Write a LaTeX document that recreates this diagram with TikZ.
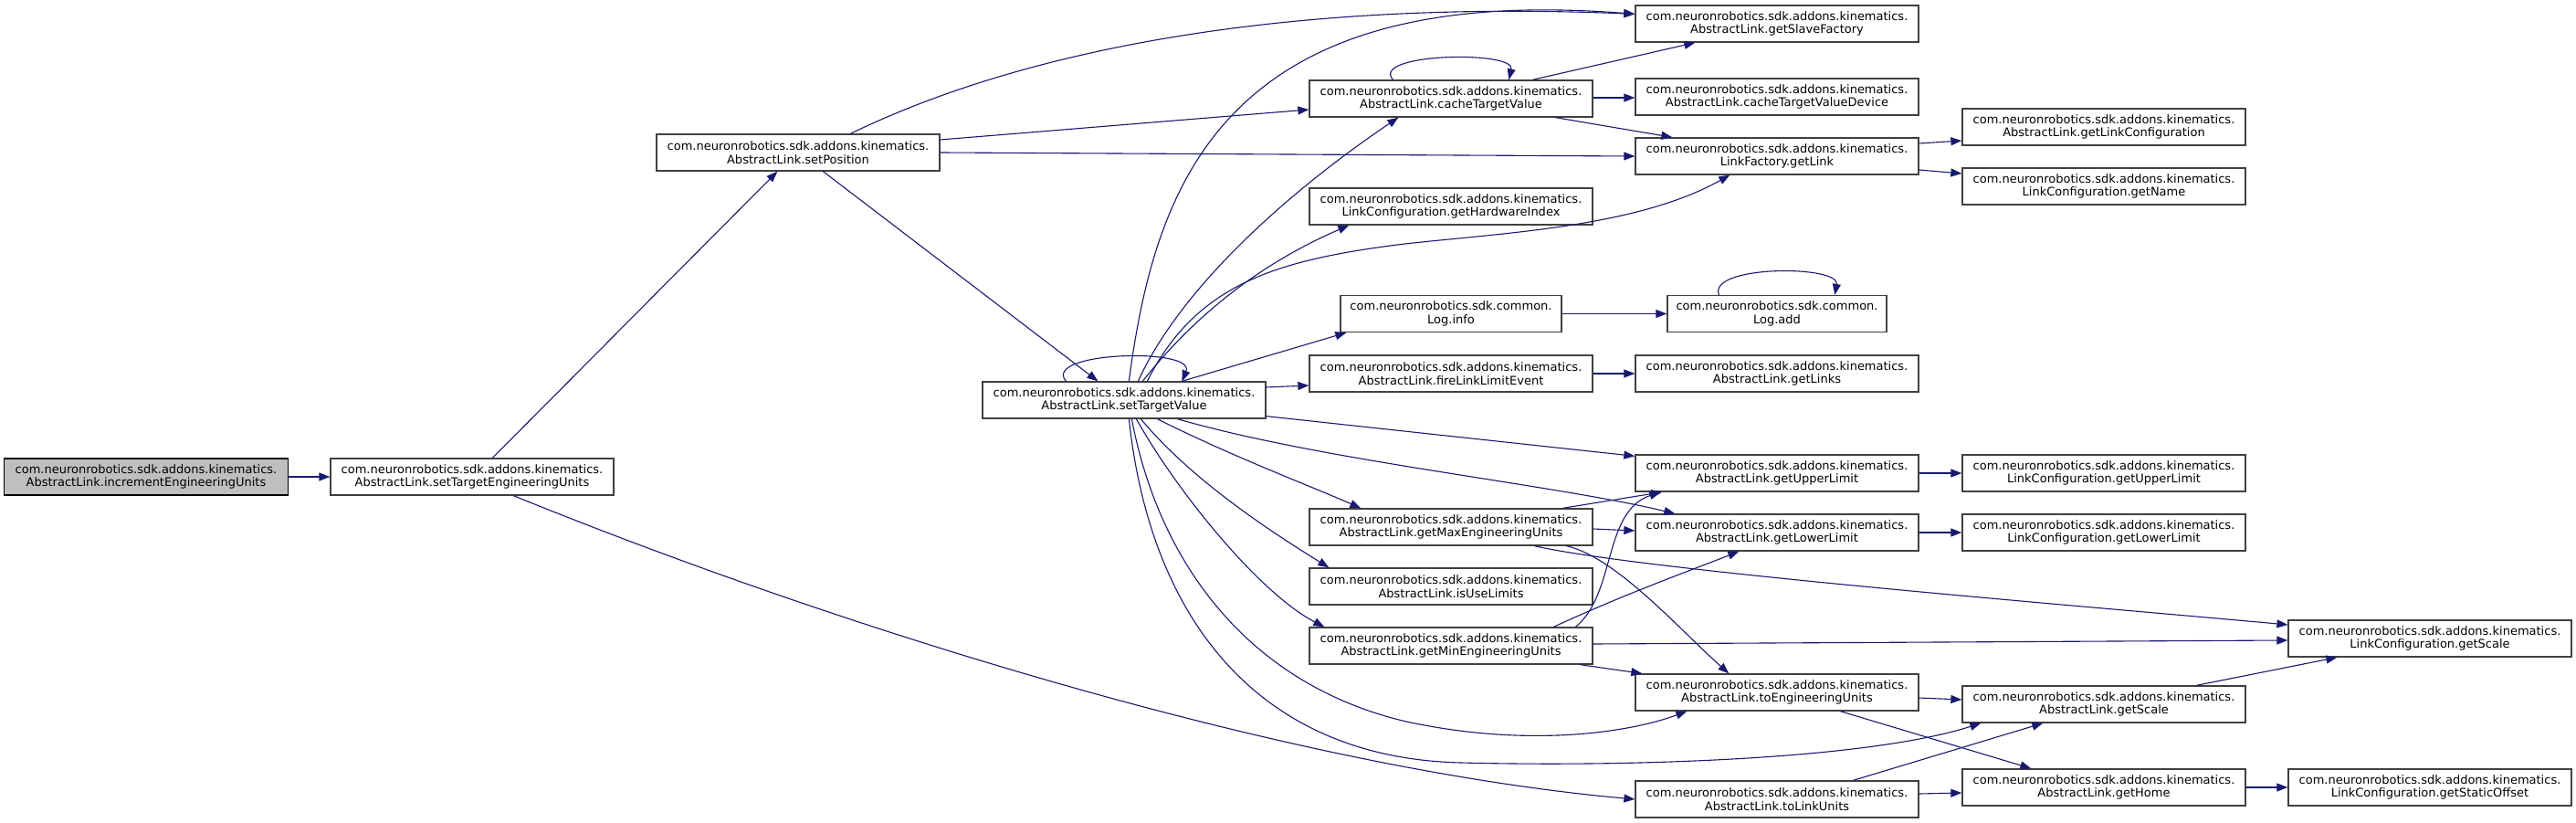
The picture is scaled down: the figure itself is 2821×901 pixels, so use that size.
\documentclass[tikz,border=0pt]{standalone}
\usepackage{fontspec}
\setmainfont{DejaVu Sans}
\usetikzlibrary{arrows.meta,calc}
\definecolor{edgec}{HTML}{191970}
\definecolor{boxc}{HTML}{404040}
\definecolor{rootfill}{HTML}{BFBFBF}
\begin{document}
\begin{tikzpicture}[x=1pt,y=-1pt,
  fn/.style={draw=boxc, line width=1.3pt, fill=white, minimum width=310pt, minimum height=40pt,
    inner sep=0pt, align=center, font=\fontsize{13}{14.5}\selectfont},
  edge/.style={draw=edgec, line width=1.1pt, -{Triangle[length=12pt,width=9pt]}}]
\path[use as bounding box, fill=white] (0,0) rectangle (2821,901);
% nodes
\node[fn, fill=rootfill, draw=black, minimum width=311pt] (inc) at (160,522) {com.neuronrobotics.sdk.addons.kinematics.\\AbstractLink.incrementEngineeringUnits};
\node[fn] (steu) at (517,522) {com.neuronrobotics.sdk.addons.kinematics.\\AbstractLink.setTargetEngineeringUnits};
\node[fn] (setpos) at (874,167) {com.neuronrobotics.sdk.addons.kinematics.\\AbstractLink.setPosition};
\node[fn] (stv) at (1231,438) {com.neuronrobotics.sdk.addons.kinematics.\\AbstractLink.setTargetValue};
\node[fn] (ctv) at (1589,108) {com.neuronrobotics.sdk.addons.kinematics.\\AbstractLink.cacheTargetValue};
\node[fn] (ghi) at (1589,226) {com.neuronrobotics.sdk.addons.kinematics.\\LinkConfiguration.getHardwareIndex};
\node[fn, minimum width=242pt] (info) at (1589,343.5) {com.neuronrobotics.sdk.common.\\Log.info};
\node[fn] (fire) at (1589,409) {com.neuronrobotics.sdk.addons.kinematics.\\AbstractLink.fireLinkLimitEvent};
\node[fn] (gmax) at (1589,577) {com.neuronrobotics.sdk.addons.kinematics.\\AbstractLink.getMaxEngineeringUnits};
\node[fn] (iul) at (1589,642) {com.neuronrobotics.sdk.addons.kinematics.\\AbstractLink.isUseLimits};
\node[fn] (gmin) at (1589,707) {com.neuronrobotics.sdk.addons.kinematics.\\AbstractLink.getMinEngineeringUnits};
\node[fn] (gsf) at (1946,26) {com.neuronrobotics.sdk.addons.kinematics.\\AbstractLink.getSlaveFactory};
\node[fn] (ctvd) at (1946,106) {com.neuronrobotics.sdk.addons.kinematics.\\AbstractLink.cacheTargetValueDevice};
\node[fn] (glink) at (1946,171) {com.neuronrobotics.sdk.addons.kinematics.\\LinkFactory.getLink};
\node[fn, minimum width=240pt] (add) at (1946,343.5) {com.neuronrobotics.sdk.common.\\Log.add};
\node[fn] (glinks) at (1946,409) {com.neuronrobotics.sdk.addons.kinematics.\\AbstractLink.getLinks};
\node[fn] (gul) at (1946,518) {com.neuronrobotics.sdk.addons.kinematics.\\AbstractLink.getUpperLimit};
\node[fn] (gll) at (1946,583) {com.neuronrobotics.sdk.addons.kinematics.\\AbstractLink.getLowerLimit};
\node[fn] (teu) at (1946,758) {com.neuronrobotics.sdk.addons.kinematics.\\AbstractLink.toEngineeringUnits};
\node[fn] (tlu) at (1946,875) {com.neuronrobotics.sdk.addons.kinematics.\\AbstractLink.toLinkUnits};
\node[fn] (glc) at (2304,139) {com.neuronrobotics.sdk.addons.kinematics.\\AbstractLink.getLinkConfiguration};
\node[fn] (gname) at (2304,204) {com.neuronrobotics.sdk.addons.kinematics.\\LinkConfiguration.getName};
\node[fn] (lcul) at (2304,518) {com.neuronrobotics.sdk.addons.kinematics.\\LinkConfiguration.getUpperLimit};
\node[fn] (lcll) at (2304,583) {com.neuronrobotics.sdk.addons.kinematics.\\LinkConfiguration.getLowerLimit};
\node[fn] (ags) at (2304,771) {com.neuronrobotics.sdk.addons.kinematics.\\AbstractLink.getScale};
\node[fn] (home) at (2304,862) {com.neuronrobotics.sdk.addons.kinematics.\\AbstractLink.getHome};
\node[fn] (lcs) at (2661,699) {com.neuronrobotics.sdk.addons.kinematics.\\LinkConfiguration.getScale};
\node[fn] (lcso) at (2661,862) {com.neuronrobotics.sdk.addons.kinematics.\\LinkConfiguration.getStaticOffset};
% edges
\draw[edge] (inc) -- (steu);
\draw[edge] ($(steu.north west)+(178,0)$) -- ($(setpos.south west)+(133,0)$);
\draw[edge] ($(steu.south west)+(201,0)$) .. controls (900,680) and (1400,840) .. (tlu.west);
\draw[edge] ($(setpos.north west)+(213,0)$) .. controls (1130,50) and (1420,0) .. ($(gsf.north west)+(0,10)$);
\draw[edge] ($(setpos.east)+(0,-14)$) -- ($(ctv.west)+(0,12)$);
\draw[edge] (setpos.east) -- (glink.west);
\draw[edge] ($(setpos.south west)+(183,0)$) -- ($(stv.north west)+(127,0)$);
% setTargetValue
\draw[edge] ($(stv.north west)+(92,0)$) .. controls (1140,385) and (1310,380) .. ($(stv.north west)+(219,0)$);
\draw[edge] ($(stv.north west)+(161,0)$) .. controls (1265,200) and (1340,-20) .. ($(gsf.north west)+(0,10)$);
\draw[edge] ($(stv.north west)+(171,0)$) .. controls (1300,300) and (1440,190) .. ($(ctv.south west)+(98,0)$);
\draw[edge] ($(stv.north west)+(176,0)$) .. controls (1320,330) and (1400,280) .. ($(ghi.south west)+(44,0)$);
\draw[edge] ($(stv.north west)+(181,0)$) .. controls (1310,310) and (1400,285) .. (1530,268) .. controls (1640,255) and (1790,250) .. ($(glink.south west)+(104,0)$);
\draw[edge] ($(stv.north west)+(219,0)$) -- ($(info.south west)+(7,0)$);
\draw[edge] ($(stv.east)+(0,-14)$) -- ($(fire.west)+(0,13)$);
\draw[edge] ($(stv.south east)+(0,-3)$) -- ($(gul.north west)+(0,2)$);
\draw[edge] ($(stv.south west)+(214,0)$) .. controls (1450,505) and (1700,530) .. ($(gll.north west)+(44,0)$);
\draw[edge] ($(stv.south west)+(192,0)$) .. controls (1350,500) and (1430,530) .. ($(gmax.north west)+(57,0)$);
\draw[edge] ($(stv.south west)+(174,0)$) .. controls (1300,520) and (1380,575) .. ($(iul.north west)+(22,0)$);
\draw[edge] ($(stv.south west)+(169,0)$) .. controls (1290,540) and (1380,650) .. ($(gmin.north west)+(17,0)$);
\draw[edge] ($(stv.south west)+(164,0)$) .. controls (1270,620) and (1370,750) .. (1540,790) .. controls (1680,820) and (1790,800) .. ($(teu.south west)+(57,0)$);
\draw[edge] ($(stv.south west)+(161,0)$) .. controls (1260,680) and (1380,830) .. (1600,835) .. controls (1800,840) and (2050,830) .. ($(ags.south west)+(21,0)$);
% cacheTargetValue
\draw[edge] ($(ctv.north west)+(92,0)$) .. controls (1500,58) and (1660,55) .. ($(ctv.north west)+(219,0)$);
\draw[edge] ($(ctv.north west)+(245,0)$) -- ($(gsf.south west)+(66,0)$);
\draw[edge] ($(ctv.east)+(0,-1)$) -- ($(ctvd.west)+(0,1)$);
\draw[edge] ($(ctv.south west)+(270,0)$) -- ($(glink.north west)+(41,0)$);
% getLink
\draw[edge] ($(glink.east)+(0,-14)$) -- ($(glc.west)+(0,15)$);
\draw[edge] ($(glink.east)+(0,15)$) -- ($(gname.west)+(0,-14)$);
% log
\draw[edge] (info) -- (add);
\draw[edge] ($(add.north west)+(57,0)$) .. controls (1870,290) and (2015,290) .. ($(add.north west)+(184,0)$);
\draw[edge] (fire) -- (glinks);
\draw[edge] (gul) -- (lcul);
\draw[edge] (gll) -- (lcll);
% max / min
\draw[edge] ($(gmax.north west)+(278,0)$) -- ($(gul.south west)+(30,0)$);
\draw[edge] ($(gmax.east)+(0,2)$) -- ($(gll.west)+(0,-2)$);
\draw[edge] ($(gmax.south west)+(247,0)$) .. controls (1800,625) and (2300,665) .. ($(lcs.west)+(0,-15)$);
\draw[edge] ($(gmax.south west)+(282,0)$) .. controls (1770,610) and (1840,690) .. ($(teu.north west)+(103,0)$);
\draw[edge] ($(gmin.north west)+(292,0)$) .. controls (1770,650) and (1755,560) .. ($(gul.south west)+(28,0)$);
\draw[edge] ($(gmin.north west)+(268,0)$) .. controls (1780,650) and (1850,625) .. ($(gll.south west)+(114,0)$);
\draw[edge] ($(gmin.east)+(0,-2)$) -- ($(lcs.west)+(0,2)$);
\draw[edge] ($(gmin.south west)+(297,0)$) -- ($(teu.north west)+(8,0)$);
% lower right
\draw[edge] ($(teu.east)+(0,6)$) -- ($(ags.west)+(0,-5)$);
\draw[edge] ($(teu.south west)+(225,0)$) -- ($(home.north west)+(76,0)$);
\draw[edge] ($(tlu.north west)+(239,0)$) -- ($(ags.south west)+(89,0)$);
\draw[edge] ($(tlu.east)+(0,-6)$) -- ($(home.west)+(0,6)$);
\draw[edge] ($(ags.north west)+(257,0)$) -- ($(lcs.south west)+(54,0)$);
\draw[edge] (home) -- (lcso);
\end{tikzpicture}
\end{document}
